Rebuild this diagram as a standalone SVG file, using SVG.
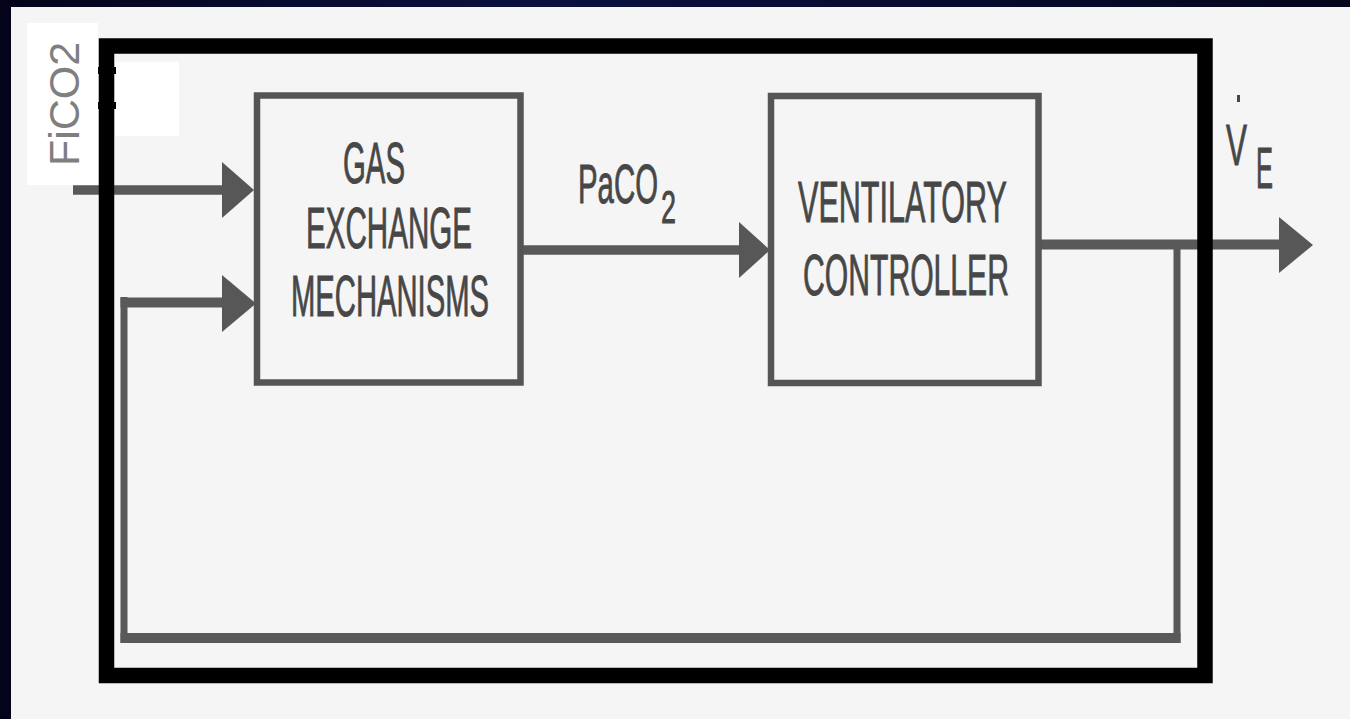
<svg xmlns="http://www.w3.org/2000/svg" width="1350" height="719" viewBox="0 0 1350 719">
  <defs>
    <linearGradient id="bg" x1="0" y1="0" x2="1" y2="0">
      <stop offset="0" stop-color="#03041a"/>
      <stop offset="0.4" stop-color="#0a1040"/>
      <stop offset="1" stop-color="#04061c"/>
    </linearGradient>
    <style>
      .box { fill: none; stroke: #555555; stroke-width: 6.5; }
      .ln { fill: none; stroke: #595959; }
      .head { fill: #575757; }
      .lbl { font-family: "Liberation Sans", Arial, sans-serif; fill: #474747; stroke: #474747; stroke-width: 0.9px; font-size: 57px; }
      .frame { fill: none; stroke: #000000; stroke-width: 15.5; }
    </style>
  </defs>
  <rect x="0" y="0" width="1350" height="719" fill="url(#bg)"/>
  <rect x="11" y="7" width="1339" height="712" fill="#f5f5f5"/>

  <g id="connectors">
    <line class="ln" x1="73" y1="190" x2="224" y2="190" stroke-width="9.5"/>
    <polygon class="head" points="222,162 254,190 222,218"/>
    <line class="ln" x1="523" y1="250" x2="741" y2="250" stroke-width="9.5"/>
    <polygon class="head" points="739,222 770,250 739,278"/>
    <line class="ln" x1="1041" y1="244.5" x2="1281" y2="244.5" stroke-width="10"/>
    <polygon class="head" points="1279,217 1313,245 1279,273"/>
    <line class="ln" x1="1177" y1="244" x2="1177" y2="643" stroke-width="7"/>
    <line class="ln" x1="120.5" y1="638" x2="1180.5" y2="638" stroke-width="10"/>
    <line class="ln" x1="124" y1="297" x2="124" y2="643" stroke-width="7"/>
    <line class="ln" x1="120.5" y1="302.5" x2="224" y2="302.5" stroke-width="10"/>
    <polygon class="head" points="222,275 256,303.5 222,332"/>
  </g>

  <g id="gas-exchange">
    <rect class="box" x="257" y="95.5" width="263.5" height="287"/>
    <text class="lbl" x="343" y="183" textLength="62" lengthAdjust="spacingAndGlyphs">GAS</text>
    <text class="lbl" x="306" y="248" textLength="166" lengthAdjust="spacingAndGlyphs">EXCHANGE</text>
    <text class="lbl" x="291" y="316" textLength="198" lengthAdjust="spacingAndGlyphs">MECHANISMS</text>
  </g>

  <g id="ventilatory-controller">
    <rect class="box" x="771" y="96" width="267.5" height="287"/>
    <text class="lbl" x="798" y="222" textLength="209" lengthAdjust="spacingAndGlyphs">VENTILATORY</text>
    <text class="lbl" x="803" y="295" textLength="206" lengthAdjust="spacingAndGlyphs">CONTROLLER</text>
  </g>

  <g id="paco2-label">
    <text class="lbl" style="font-size:56px"><tspan x="578" y="203" textLength="80" lengthAdjust="spacingAndGlyphs">PaCO</tspan><tspan x="661" y="223" style="font-size:46px" textLength="15" lengthAdjust="spacingAndGlyphs">2</tspan></text>
  </g>

  <g id="ve-label">
    <rect x="1237" y="95" width="3" height="7" fill="#474747"/>
    <text class="lbl" style="font-size:58px"><tspan x="1226" y="165" textLength="21" lengthAdjust="spacingAndGlyphs">V</tspan><tspan x="1256" y="188" textLength="17" lengthAdjust="spacingAndGlyphs">E</tspan></text>
  </g>

  <g id="frame">
    <rect x="115" y="62" width="64" height="74" fill="#ffffff"/>
    <rect class="frame" x="106.5" y="46" width="1098.5" height="629.5"/>
    <rect x="98" y="67" width="18" height="7" fill="#000000"/>
    <rect x="98" y="102" width="18" height="7" fill="#000000"/>
  </g>

  <g id="fico2-label">
    <rect x="27" y="23" width="71" height="162" fill="#ffffff"/>
    <text transform="translate(79,104) rotate(-90)" text-anchor="middle" font-family="'Liberation Sans', Arial, sans-serif" font-size="43" fill="#7f7f7f">FiCO2</text>
  </g>
</svg>
